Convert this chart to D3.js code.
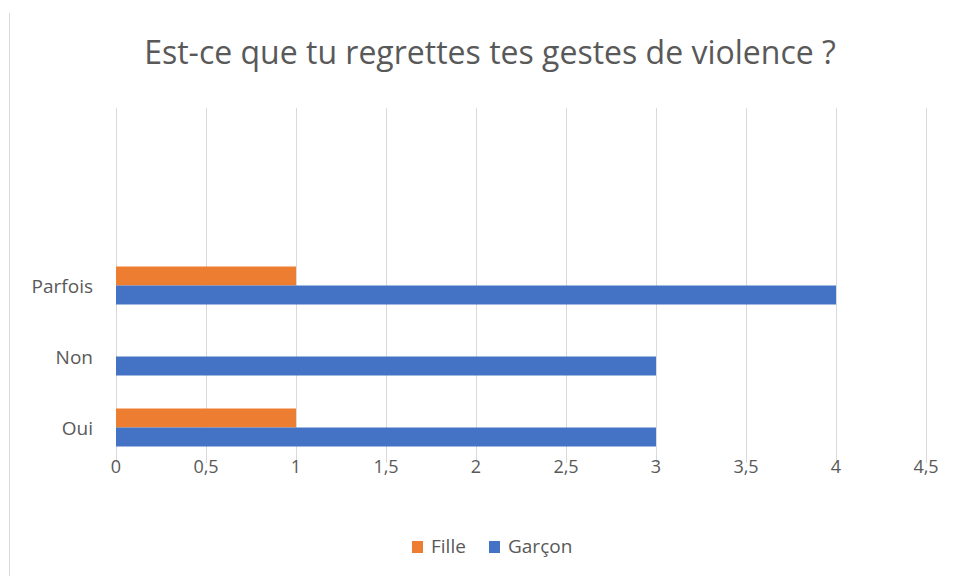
<!DOCTYPE html>
<html>
<head>
<meta charset="utf-8">
<script src="https://cdn.jsdelivr.net/npm/d3@7"></script>
<style>
  body { margin: 0; background: #fff; }
  text { font-family: "Open Sans", "Noto Sans", sans-serif; fill: #595959; }
</style>
</head>
<body>
<div id="chart"></div>
<script>
// data
const categories = ["Oui", "Non", "Parfois", "", " "]; // bottom to top, two empty slots on top
const series = ["Fille", "Garçon"];
const fille = [1, 0, 1, null, null];
const garcon = [3, 3, 4, null, null];
const xTicks = [0, 0.5, 1, 1.5, 2, 2.5, 3, 3.5, 4, 4.5];
const colors = { "Fille": "#ED7D31", "Garçon": "#4472C4" };

const width = 955, height = 576;
const plotLeft = 116, plotRight = 926, plotTop = 108, plotBottom = 463;

const svg = d3.select("#chart").append("svg")
  .attr("width", width).attr("height", height);

// chart frame edge on the left
svg.append("line")
  .attr("x1", 9.5).attr("x2", 9.5).attr("y1", 13).attr("y2", height)
  .attr("stroke", "#d9d9d9").attr("stroke-width", 1);

const x = d3.scaleLinear().domain([0, 4.5]).range([plotLeft, plotRight]);
const y = d3.scaleBand().domain(categories).range([plotBottom, plotTop]);

//gridlines
svg.append("g").selectAll("line").data(xTicks).enter().append("line")
  .attr("x1", d => Math.round(x(d)) + 0.5).attr("x2", d => Math.round(x(d)) + 0.5)
  .attr("y1", plotTop).attr("y2", plotBottom)
  .attr("stroke", "#d9d9d9").attr("stroke-width", 1);

//x tick labels
svg.append("g").selectAll("text").data(xTicks).enter().append("text")
  .attr("x", d => x(d)).attr("y", 473)
  .attr("text-anchor", "middle")
  .style("font-size", "18px")
  .text(d => String(d).replace(".", ","));

//category labels
svg.append("g").selectAll("text").data(categories.slice(0, 3)).enter().append("text")
  .attr("x", 93).attr("y", d => y(d) + y.bandwidth() / 2 + 7)
  .attr("text-anchor", "end")
  .style("font-size", "19px")
  .text(d => d);

// bars
const barH = 19;
const rows = categories.map((c, i) => ({ cat: c, Fille: fille[i], "Garçon": garcon[i] }));
series.forEach((s, si) => {
  svg.append("g").selectAll("rect")
    .data(rows.filter(r => r[s] !== null && r[s] > 0))
    .enter().append("rect")
    .attr("x", x(0))
    .attr("y", d => y(d.cat) + y.bandwidth() / 2 - barH + si * barH)
    .attr("width", d => x(d[s]) - x(0))
    .attr("height", barH)
    .attr("fill", colors[s]);
});

// title
svg.append("text")
  .attr("x", 490).attr("y", 64)
  .attr("text-anchor", "middle")
  .style("font-size", "32px")
  .text("Est-ce que tu regrettes tes gestes de violence ?");

// legend
const legend = svg.append("g");
const legendX = [412, 489];
series.forEach((s, i) => {
  legend.append("rect")
    .attr("x", legendX[i]).attr("y", 541)
    .attr("width", 11).attr("height", 12)
    .attr("fill", colors[s]);
  legend.append("text")
    .attr("x", legendX[i] + 19).attr("y", 553)
    .style("font-size", "19px")
    .text(s);
});
</script>
</body>
</html>
